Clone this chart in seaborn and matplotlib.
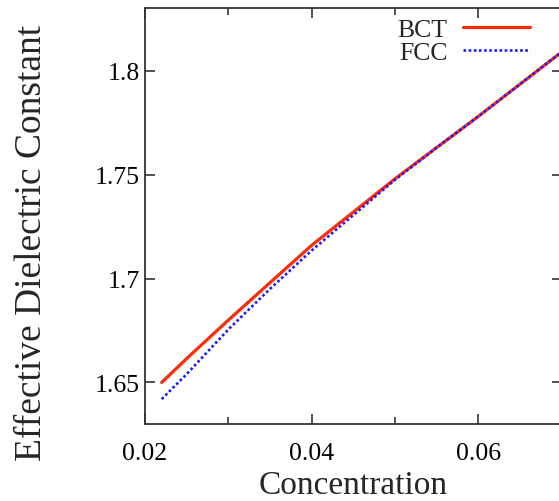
"""
Effective dielectric constant vs concentration, BCT vs FCC lattices.
Writes out.png.
"""
import matplotlib
matplotlib.use('Agg')
import matplotlib.pyplot as plt
import seaborn as sns
from matplotlib.ticker import MultipleLocator

# values
concentration = [0.022, 0.025, 0.030, 0.035, 0.040, 0.045, 0.050, 0.055, 0.060, 0.065, 0.070]
bct = [1.650, 1.6615, 1.680, 1.698, 1.716, 1.732, 1.748, 1.763, 1.778, 1.7935, 1.809]
fcc = [1.642, 1.654, 1.6755, 1.695, 1.7135, 1.7305, 1.7475, 1.763, 1.778, 1.7935, 1.809]
series_labels = ['BCT', 'FCC']

sns.set_style('ticks')
plt.rcParams['font.family'] = ['Liberation Serif', 'DejaVu Serif']

fig = plt.figure(figsize=(5.59, 5.02), dpi=100)
# right spine sits just past the image edge, as in the cropped original
ax = fig.add_axes([145 / 559, 77 / 502, 416.7 / 559, 415.7 / 502])

sns.lineplot(x=concentration, y=bct, ax=ax, color='#ff2a0a', lw=2.3,
             label=series_labels[0])
sns.lineplot(x=concentration, y=fcc, ax=ax, color='#1a1aff', lw=1.9,
             label=series_labels[1])
ax.lines[1].set_dashes((1, 0.95))

ax.set_xlim(0.02, 0.07)
ax.set_ylim(1.63, 1.83)
ax.xaxis.set_minor_locator(MultipleLocator(0.01))
ax.set_xticks([0.02, 0.04, 0.06])
ax.set_xticklabels(['0.02', '0.04', '0.06'])
ax.set_yticks([1.65, 1.7, 1.75, 1.8])
ax.set_yticklabels(['1.65', '1.7', '1.75', '1.8'])

ax.tick_params(which='both', direction='in', top=True, right=True,
               colors='#333333', labelcolor='black', labelsize=18.5)
ax.tick_params(which='major', length=7, width=1.2)
ax.tick_params(which='minor', length=5, width=1.2)
ax.tick_params(axis='x', pad=13)
ax.tick_params(axis='y', pad=4)
for s in ax.spines.values():
    s.set_color('#333333')
    s.set_linewidth(1.3)

ax.set_xlabel('Concentration', fontsize=24)
ax.set_ylabel('Effective Dielectric Constant', fontsize=27)
ax.xaxis.label.set_va('center')
ax.xaxis.set_label_coords(0.5, (425 - 486) / 415.7)
ax.yaxis.label.set_va('center')
ax.yaxis.set_label_coords((32 - 145) / 416.7, (425 - 243) / 415.7)

ax.legend(loc='upper right', bbox_to_anchor=((530 - 145) / 416.7, (425 - 19) / 415.7),
          frameon=False, markerfirst=False, fontsize=18.5, handlelength=2.6,
          handletextpad=0.6, labelspacing=0.0, borderpad=0, borderaxespad=0)

fig.savefig('out.png', dpi=100)
